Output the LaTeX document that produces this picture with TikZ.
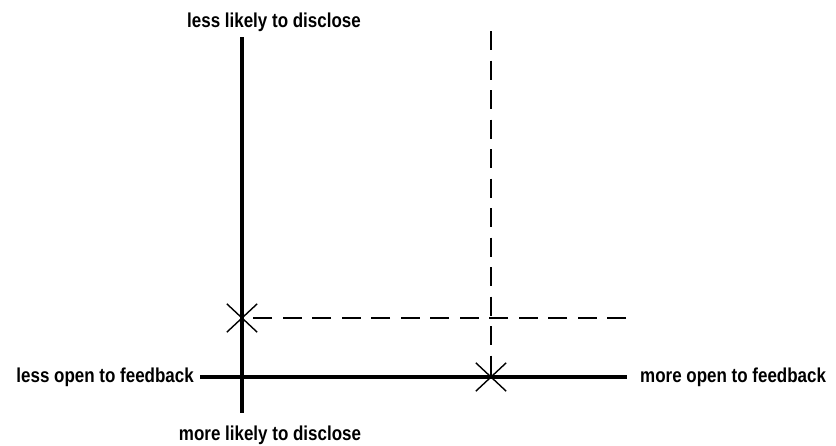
\documentclass[tikz,border=0pt]{standalone}
\usepackage{fontspec}
\setmainfont{Liberation Sans}
\usepackage{tikz}
\usetikzlibrary{calc, positioning, shapes.misc}

\newcommand{\tallbold}[1]{\scalebox{0.97}[1.15]{#1}}

\begin{document}
\begin{tikzpicture}[
        x=1pt, y=-1pt,
        axislabel/.style={font=\bfseries\fontsize{17.5}{20}\selectfont, inner sep=0pt},
        axisline/.style={line width=4pt},
        guide/.style={line width=2pt, dash pattern=on 19pt off 10.5pt},
        crossmark/.style={cross out, draw, line width=1.4pt, minimum width=29pt, minimum height=27pt, inner sep=0pt}
      ]
        \useasboundingbox (0,0) rectangle (836,445);

        % Axis end points
        \coordinate (vtop) at (242,37);
        \coordinate (vbot) at (242,413);
        \coordinate (hleft) at (200,377);
        \coordinate (hright) at (627,377);

        % Axis labels
        \node[axislabel, anchor=base] (disclLess) at (274,27) {\tallbold{less likely to disclose}};
        \node[axislabel, anchor=base] (disclMore) at (270,440) {\tallbold{more likely to disclose}};
        \node[axislabel, anchor=base east] (fbLess) at (194,382) {\tallbold{less open to feedback}};
        \node[axislabel, anchor=base west] (fbMore) at (640,382) {\tallbold{more open to feedback}};

        % Axes
        \draw[axisline] (vtop) -- (vbot);
        \draw[axisline] (hleft) -- (hright);

        % Positions
        \node[crossmark] (markA) at (242,318) {};
        \node[crossmark] (markB) at (491,377) {};

        % Guide lines
        \coordinate (guideTop) at (491,31);
        \coordinate (guideRight) at (626,318);
        \draw[guide] (guideRight) -- (markA.center);
        \draw[guide] (guideTop) -- (markB.center);
      \end{tikzpicture}
\end{document}
